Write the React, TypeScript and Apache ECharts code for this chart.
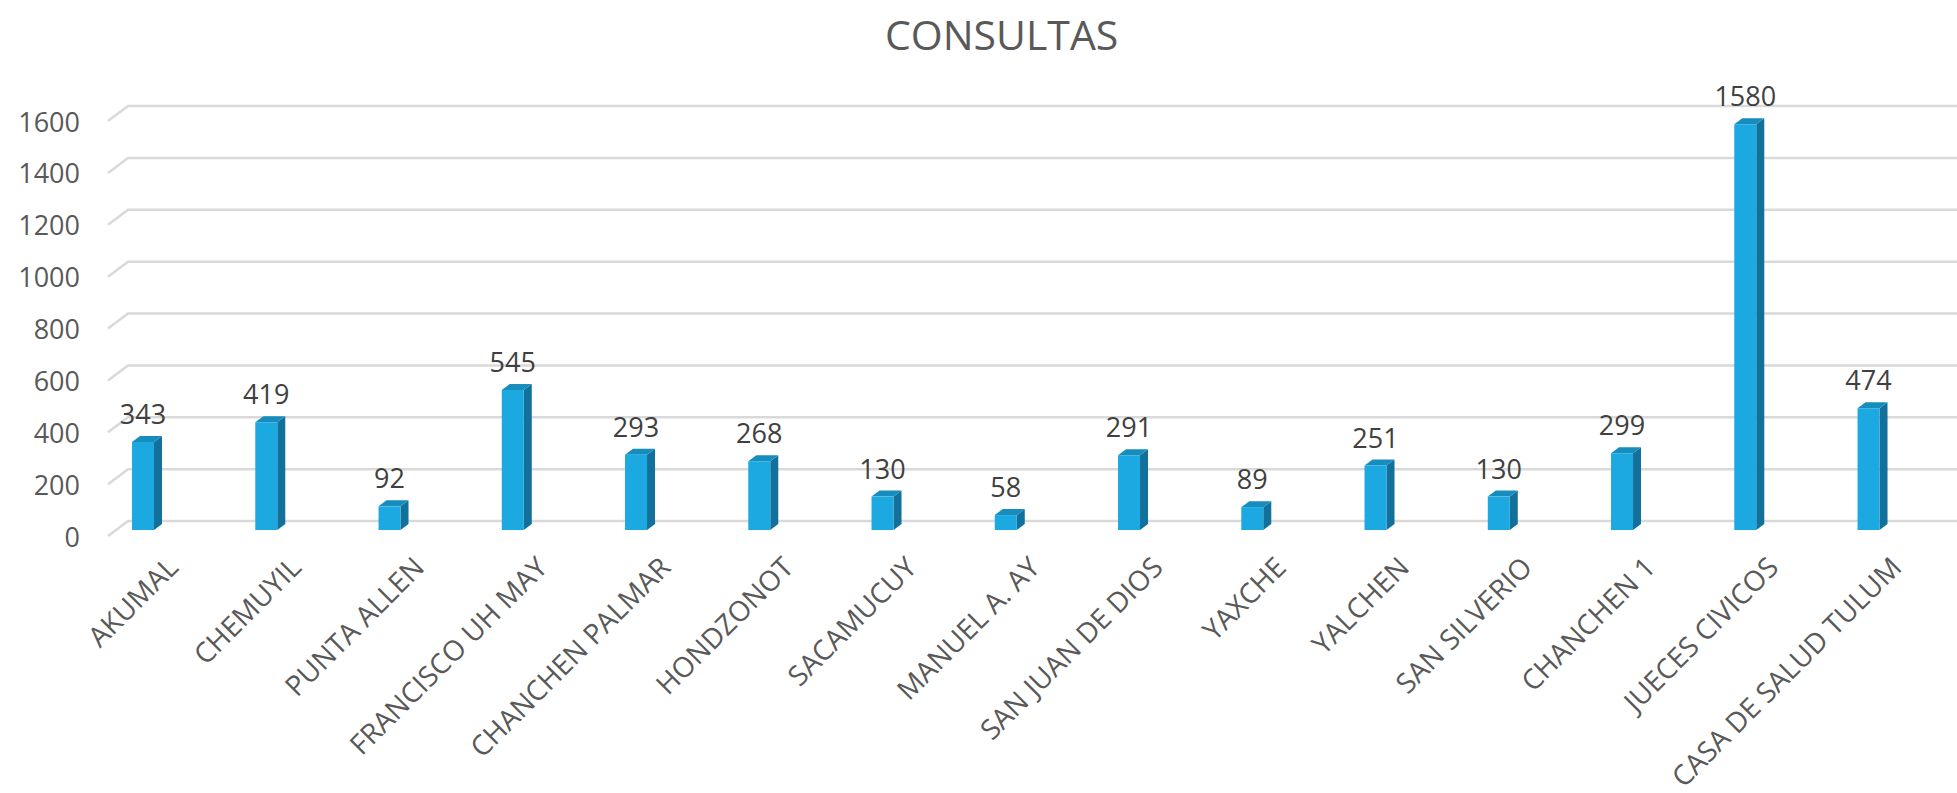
import React, { useEffect, useRef } from "react";
import * as echarts from "echarts";

const chartTitle = "CONSULTAS";
const categories = [
  "AKUMAL",
  "CHEMUYIL",
  "PUNTA ALLEN",
  "FRANCISCO UH MAY",
  "CHANCHEN PALMAR",
  "HONDZONOT",
  "SACAMUCUY",
  "MANUEL A. AY",
  "SAN JUAN DE DIOS",
  "YAXCHE",
  "YALCHEN",
  "SAN SILVERIO",
  "CHANCHEN 1",
  "JUECES CIVICOS",
  "CASA DE SALUD TULUM",
];
const consultas = [343, 419, 92, 545, 293, 268, 130, 58, 291, 89, 251, 130, 299, 1580, 474];
const yTicks = [0, 200, 400, 600, 800, 1000, 1200, 1400, 1600];

const FONT = '"Open Sans", "DejaVu Sans", sans-serif';
const FRONT = "#1CA9E1";
const SIDE = "#12709A";
const TOP = "#168DBC";

export default function App() {
  const ref = useRef<HTMLDivElement | null>(null);

  useEffect(() => {
    if (!ref.current) return;
    const chart = echarts.init(ref.current, undefined, { renderer: "svg" });
    const bandLeft = 81.4;
    const bandWidth = 1848.75;

    chart.setOption({
      animation: false,
      backgroundColor: "#ffffff",
      textStyle: { fontFamily: FONT },
      title: {
        text: chartTitle,
        left: 880,
        top: 8,
        textStyle: { fontFamily: FONT, fontSize: 41, fontWeight: "normal", color: "#595959" },
      },
      grid: [
        // bars
        { left: bandLeft, width: bandWidth, top: 119, height: 411 },
        // back wall gridlines + value labels
        { left: 108, right: 0, top: 121, height: 415 },
        // category labels
        { left: bandLeft + 29, width: bandWidth, top: 119, height: 411 },
      ],
      xAxis: [
        {
          gridIndex: 0,
          type: "category",
          data: categories,
          axisLine: { show: false },
          axisTick: { show: false },
          axisLabel: { show: false },
        },
        { gridIndex: 1, type: "value", min: 0, max: 1, show: false },
        {
          gridIndex: 2,
          type: "category",
          data: categories,
          axisLine: { show: false },
          axisTick: { show: false },
          axisLabel: {
            show: true,
            interval: 0,
            rotate: 45,
            margin: 48,
            fontFamily: FONT,
            fontSize: 28,
            color: "#595959",
          },
        },
      ],
      yAxis: [
        { gridIndex: 0, type: "value", min: 0, max: 1600, interval: 200, show: false },
        {
          gridIndex: 1,
          type: "value",
          min: 0,
          max: 1600,
          interval: 200,
          axisLine: { show: false },
          axisTick: { show: false },
          splitLine: { show: false },
          axisLabel: {
            margin: 28,
            fontFamily: FONT,
            fontSize: 27,
            color: "#595959",
            formatter: (v: number) => String(v),
          },
        },
        { gridIndex: 2, type: "value", min: 0, max: 1600, show: false },
      ],
      series: [
        {
          type: "custom",
          xAxisIndex: 1,
          yAxisIndex: 1,
          z: 1,
          data: yTicks.map((v) => [0, v]),
          encode: { x: 0, y: 1 },
          renderItem: (params: any, api: any) => {
            const v = api.value(1);
            const p = api.coord([0, v]);
            const r = api.coord([1, v]);
            return {
              type: "polyline",
              shape: {
                points: [
                  [p[0], p[1]],
                  [p[0] + 20, p[1] - 15],
                  [r[0], p[1] - 15],
                ],
              },
              style: { stroke: "#D9D9D9", lineWidth: 2.5, fill: null },
              silent: true,
            };
          },
        },
        {
          type: "custom",
          xAxisIndex: 0,
          yAxisIndex: 0,
          z: 5,
          data: consultas.map((v, i) => [i, v]),
          encode: { x: 0, y: 1 },
          renderItem: (params: any, api: any) => {
            const v = api.value(1);
            const idx = api.value(0);
            const top = api.coord([idx, v]);
            const base = api.coord([idx, 0]);
            const w = 22;
            const dx = 8;
            const dy = 6;
            const x0 = top[0] - w / 2;
            const x1 = top[0] + w / 2;
            const yT = top[1];
            const yB = base[1];
            return {
              type: "group",
              children: [
                {
                  type: "polygon",
                  shape: { points: [[x1, yB], [x1 + dx, yB - dy], [x1 + dx, yT - dy], [x1, yT]] },
                  style: { fill: SIDE },
                },
                {
                  type: "polygon",
                  shape: { points: [[x0, yT], [x0 + dx, yT - dy], [x1 + dx, yT - dy], [x1, yT]] },
                  style: { fill: TOP },
                },
                {
                  type: "rect",
                  shape: { x: x0, y: yT, width: w, height: yB - yT },
                  style: { fill: FRONT },
                },
                {
                  type: "text",
                  style: {
                    text: String(v),
                    x: top[0],
                    y: yT - dy - 9,
                    align: "center",
                    verticalAlign: "bottom",
                    fontFamily: FONT,
                    fontSize: 27,
                    fill: "#404040",
                  },
                },
              ],
            };
          },
        },
      ],
    });

    return () => chart.dispose();
  }, []);

  return (
    <div
      ref={ref}
      style={{ position: "fixed", left: 0, top: 0, width: 1957, height: 793 }}
    />
  );
}
